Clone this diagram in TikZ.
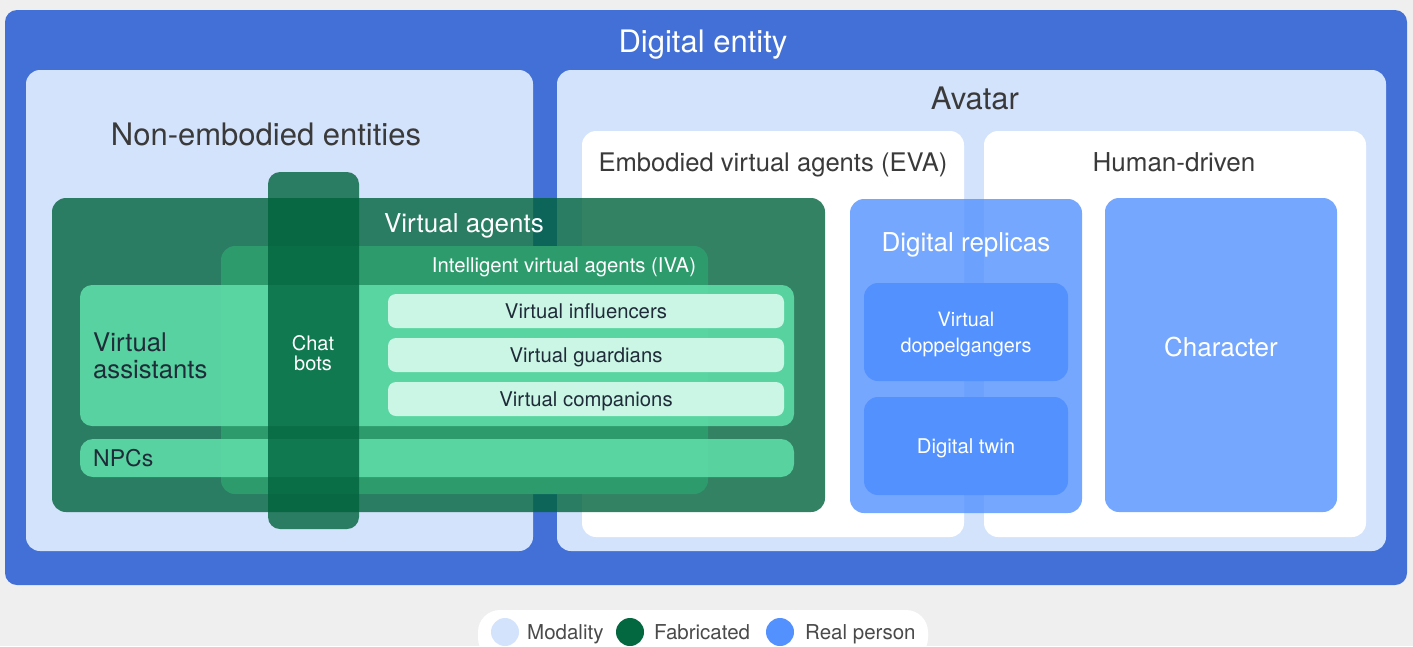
\documentclass[tikz,border=0pt]{standalone}
\usepackage{fontspec}
\setmainfont{TeX Gyre Heros}
\definecolor{bgGray}{HTML}{EFEFEF}
\definecolor{entBlue}{HTML}{4270D6}
\definecolor{modal}{HTML}{D4E3FC}
\definecolor{fab}{HTML}{00633C}
\definecolor{fabLeg}{HTML}{03673F}
\definecolor{ivaG}{HTML}{2E9B6C}
\definecolor{vaLight}{HTML}{5DDCA7}
\definecolor{itemG}{HTML}{CBF5E5}
\definecolor{real}{HTML}{5391FF}
\definecolor{darkText}{HTML}{1F2B38}
\definecolor{grayText}{HTML}{3A3A3A}
\definecolor{legText}{HTML}{4A4A4A}
\newcommand{\rbox}[6]{\node[#2, minimum width={(#5-#3)*1pt}, minimum height={(#6-#4)*1pt}] (#1) at ({(#3+#5)/2},{(#4+#6)/2}) {};}
\tikzset{
  box/.style={draw=none, rounded corners=14pt, inner sep=0pt, outer sep=0pt, rectangle},
  lbl/.style={inner sep=0pt, align=center},
  big/.style={lbl, text height=22.3pt, text depth=0pt, font=\fontsize{31}{36}\selectfont},
  mid/.style={lbl, text height=18.7pt, text depth=0pt, font=\fontsize{26}{28}\selectfont},
  sml/.style={lbl, text height=14.6pt, text depth=0pt, font=\fontsize{20.3}{25}\selectfont},
  leg/.style={lbl, text height=14.8pt, text depth=0pt, anchor=west, text=legText, font=\fontsize{20.5}{24}\selectfont},
}
\begin{document}
\begin{tikzpicture}[x=1pt,y=-1pt]
\useasboundingbox (0,0) rectangle (1413,646);
\clip (0,0) rectangle (1413,646);
\fill[bgGray] (0,0) rectangle (1413,646);
% outer
\rbox{entity}{box, fill=entBlue, rounded corners=12pt}{5}{10}{1407}{585}
\rbox{nonemb}{box, fill=modal}{26}{70}{533}{551}
\rbox{avatar}{box, fill=modal}{557}{70}{1386}{551}
\rbox{eva}{box, fill=white}{582}{131}{964}{537}
\rbox{human}{box, fill=white}{984}{131}{1366}{537}
% fabricated
\rbox{va}{box, fill=fab, fill opacity=0.8}{52}{198}{825}{512}
\rbox{iva}{box, fill=ivaG}{221}{246}{708}{494}
\rbox{assist}{box, fill=vaLight, fill opacity=0.9, rounded corners=12pt}{80}{285}{794}{426}
\rbox{npc}{box, fill=vaLight, fill opacity=0.9, rounded corners=13pt}{80}{439}{794}{477}
\rbox{infl}{box, fill=itemG, rounded corners=8pt}{388}{294}{784}{328}
\rbox{guard}{box, fill=itemG, rounded corners=8pt}{388}{338}{784}{372}
\rbox{comp}{box, fill=itemG, rounded corners=8pt}{388}{382}{784}{416}
\rbox{chat}{box, fill=fab, fill opacity=0.8, rounded corners=12pt}{268}{172}{359}{529}
% real person
\rbox{replica}{box, fill=real, fill opacity=0.8}{850}{199}{1082}{513}
\rbox{dopp}{box, fill=real}{864}{283}{1068}{381}
\rbox{twin}{box, fill=real}{864}{397}{1068}{495}
\rbox{charbox}{box, fill=real, fill opacity=0.8}{1105}{198}{1337}{512}
% labels
\node[big, text=white] (tEntity) at (703,41) {Digital entity};
\node[big, text=grayText] (tNonemb) at (266,134) {Non-embodied entities};
\node[big, text=grayText] (tAvatar) at (975,98) {Avatar};
\node[mid, text=grayText, font=\fontsize{25.6}{28}\selectfont] (tEva) at (773,162) {Embodied virtual agents (EVA)};
\node[mid, text=grayText] (tHuman) at (1174,162) {Human-driven};
\node[mid, text=white] (tVa) at (464,223) {Virtual agents};
\node[sml, text=white] (tIva) at (564,265) {Intelligent virtual agents (IVA)};
\node[lbl, text=darkText, anchor=west, align=left, font=\fontsize{25.7}{27}\selectfont] (tAssist) at (93,356) {Virtual\\assistants};
\node[lbl, text height=16.5pt, text depth=0pt, text=darkText, anchor=west, font=\fontsize{23}{27}\selectfont] (tNpc) at (93,458) {NPCs};
\node[lbl, text=white, font=\fontsize{20}{20}\selectfont] (tChat) at (313,353) {Chat\\bots};
\node[sml, text=darkText] (tInfl) at (586,311) {Virtual influencers};
\node[sml, text=darkText] (tGuard) at (586,355) {Virtual guardians};
\node[sml, text=darkText] (tComp) at (586,399) {Virtual companions};
\node[mid, text=white] (tReplica) at (966,242) {Digital replicas};
\node[lbl, text=white, font=\fontsize{19.8}{26}\selectfont] (tDopp) at (966,334) {Virtual\\doppelgangers};
\node[sml, text=white] (tTwin) at (966,446) {Digital twin};
\node[mid, text=white] (tChar) at (1221,347) {Character};
% legend
\rbox{legend}{box, fill=white, rounded corners=22pt}{478}{610}{928}{660}
\node[circle, fill=modal, minimum size=28pt, inner sep=0pt] (cMod) at (505,632) {};
\node[leg] (tMod) at (527,632) {Modality};
\node[circle, fill=fabLeg, minimum size=28pt, inner sep=0pt] (cFab) at (630,632) {};
\node[leg] (tFab) at (654,632) {Fabricated};
\node[circle, fill=real, minimum size=28pt, inner sep=0pt] (cReal) at (780,632) {};
\node[leg] (tReal) at (805,632) {Real person};
\end{tikzpicture}
\end{document}
